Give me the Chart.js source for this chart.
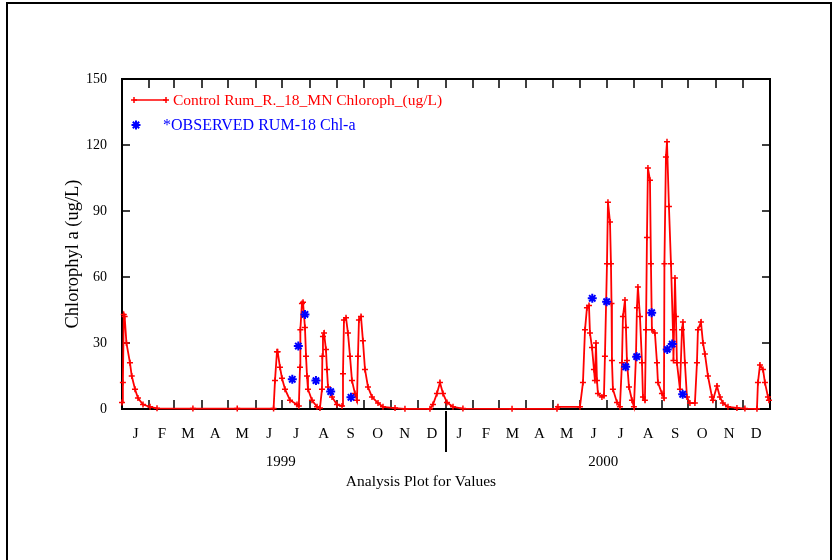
<!DOCTYPE html>
<html>
<head>
<meta charset="utf-8">
<script src="https://cdn.jsdelivr.net/npm/chart.js@4.4.1/dist/chart.umd.min.js"></script>
<style>
html, body { margin: 0; padding: 0; background: #fff; }
#wrap { position: relative; width: 835px; height: 560px; }
</style>
</head>
<body>
<div id="wrap"><canvas id="chlChart" width="835" height="560"></canvas></div>
<script>
// days counted from 1 Jan 1999
const modelDays = [0, 1, 2, 3, 5, 9, 11, 14.7, 18, 23.7, 31.6, 39.5, 80, 130, 171,
    172.6, 174.8, 175.6, 178.2, 180.5, 183.9, 189.5, 197.4, 199.5,
    200.8, 201.2, 203, 204.2, 206.4, 207.6, 208.7, 209.8, 214.3, 220, 223.3,
    225.6, 226, 226.7, 227.9, 230.1, 231.2, 232.4, 236.9, 242.5, 248.2,
    249.3, 250.4, 252.7, 254.9, 257.2, 259.4, 262.8, 265.1,
    266.2, 267.3, 269.6, 271.8, 274.1, 277.5, 282, 288.8, 294.4, 308, 319.2, 347.4,
    350.8, 355.3, 358.7, 362.1, 366.6, 373.4, 384.6, 440, 490.7, 491.8, 516.6,
    520, 522.3, 524.5, 526.8, 527.9, 530.2, 532.4, 533.5, 534.7, 535.8, 536.9, 541.4, 543.7,
    544.8, 547.1, 548.2, 550.5, 551.6, 552.2, 552.7, 553.8, 558.4, 561.7,
    564, 565.1, 567.4, 568.5, 569.6, 571.9, 575.3, 577.5,
    579.8, 580.9, 582, 584.3, 586.6, 587.7, 589.9,
    591.1, 592.2, 593.3, 595.6, 596.7, 597.8, 601.2, 603.5, 604.6, 609.1, 611.4,
    611.9, 613.6, 614.8, 617, 619.3, 621.5, 622.1, 623.8, 624.9, 626, 629.4,
    631.7, 632.8, 635, 637.3, 640.7, 646.3,
    648.6, 649.7, 653.1, 655.4, 657.6, 661, 665.5, 666.6, 671.2, 674.5, 677.9, 683.6, 693.7, 702.7, 716.3,
    717.4, 719.7, 723.1, 725.3, 728.7, 729.8];

const modelValues = [3, 12, 43, 42, 30, 21, 15, 9, 5, 2, 1, 0.3, 0.2, 0.2, 0.2,
    13, 26, 26, 19, 14, 9, 4, 2, 1.4,
    19, 36, 48, 48.5, 37, 24, 15, 9, 4, 1, 0.5,
    9, 24, 33, 34.5, 27, 18, 10, 5.5, 2, 1.4,
    16, 40.5, 41.5, 34.5, 24, 13, 7, 4,
    24, 40.5, 42, 31, 18, 10, 5.5, 2.7, 1, 0.4, 0.1, 0.1,
    2, 7, 12, 7, 3, 1, 0.2, 0.1, 0.1, 1, 1,
    12, 36, 46, 47, 34.5, 28, 18, 13, 30, 13, 7, 5.5, 6,
    24, 66, 94, 85, 66, 48, 22, 9, 3, 1,
    21, 42, 49.5, 37, 22, 10, 4, 1,
    24, 46, 55.5, 42, 21, 5.5, 4,
    36, 78, 109.5, 104, 66, 36, 34.5, 21, 12, 7, 5,
    66, 114.5, 121.5, 92, 66, 36, 22, 59.5, 42, 21, 9,
    36, 39.5, 21, 5.5, 2.7, 2.7,
    21, 36, 39.5, 30, 25, 15, 5.5, 4, 10.5, 5.5, 2.7, 1, 0.5, 0.2, 0.1,
    12, 20, 18, 12, 5.5, 4];

const obsDays = [192.1, 198.9, 206.4, 218.8, 235.4, 258.3,
    530.5, 546.7, 568.2, 580.6, 597.5, 615.1, 620.7, 632.5];
const obsValues = [13.5, 28.6, 43, 12.9, 7.9, 5.3,
    50.3, 48.8, 19.2, 23.8, 43.8, 27.1, 29.5, 6.7];

const monthStarts = [0, 31, 59, 90, 120, 151, 181, 212, 243, 273, 304, 334, 365,
    396, 425, 456, 486, 517, 547, 578, 609, 639, 670, 700, 731];
const monthLetters = ['J', 'F', 'M', 'A', 'M', 'J', 'J', 'A', 'S', 'O', 'N', 'D',
    'J', 'F', 'M', 'A', 'M', 'J', 'J', 'A', 'S', 'O', 'N', 'D'];
const yearLabels = ['1999', '2000'];
const yearCenters = [179, 543];
const yTicks = [0, 30, 60, 90, 120, 150];

const SERIF = '"Liberation Serif", "Times New Roman", serif';
const RED = '#ff0000';
const BLUE = '#0000ff';

const monthMids = monthStarts.slice(0, -1).map((d, i) => (d + monthStarts[i + 1]) / 2);

const decorPlugin = {
    id: 'decor',
    beforeDatasetsDraw(chart) {
        const ctx = chart.ctx;
        const a = chart.chartArea;
        const xs = chart.scales.x;
        const ys = chart.scales.y;
        ctx.save();
        ctx.strokeStyle = '#000';
        ctx.lineWidth = 2;
        ctx.strokeRect(a.left, a.top, a.right - a.left, a.bottom - a.top);
        ctx.lineWidth = 1.5;
        ctx.beginPath();
        // month ticks, pointing inwards
        monthStarts.slice(1, -1).forEach(d => {
            const px = Math.round(xs.getPixelForValue(d));
            ctx.moveTo(px, a.top);
            ctx.lineTo(px, a.top + 9);
            ctx.moveTo(px, a.bottom);
            ctx.lineTo(px, a.bottom - 9);
        });
        yTicks.slice(1, -1).forEach(v => {
            const py = Math.round(ys.getPixelForValue(v));
            ctx.moveTo(a.left, py);
            ctx.lineTo(a.left + 8, py);
            ctx.moveTo(a.right, py);
            ctx.lineTo(a.right - 8, py);
        });
        ctx.stroke();
        // year divider
        ctx.lineWidth = 2;
        const dx = Math.round(xs.getPixelForValue(365));
        ctx.beginPath();
        ctx.moveTo(dx, a.bottom + 2);
        ctx.lineTo(dx, a.bottom + 43);
        ctx.stroke();
        ctx.restore();
    },
    afterDraw(chart) {
        const ctx = chart.ctx;
        const xs = chart.scales.x;
        ctx.save();
        // outer frame
        ctx.strokeStyle = '#000';
        ctx.lineWidth = 2;
        ctx.beginPath();
        ctx.moveTo(7, 560);
        ctx.lineTo(7, 3);
        ctx.lineTo(831, 3);
        ctx.lineTo(831, 560);
        ctx.stroke();

        ctx.fillStyle = '#000';
        ctx.font = '15px ' + SERIF;
        ctx.textAlign = 'center';
        ctx.textBaseline = 'middle';
        yearLabels.forEach((t, i) => {
            ctx.fillText(t, xs.getPixelForValue(yearCenters[i]), 462);
        });
        ctx.font = '15.5px ' + SERIF;
        ctx.fillText('Analysis Plot for Values', 421, 482);

        // y title, sits a little below the plot centre
        ctx.save();
        ctx.translate(73, 254);
        ctx.rotate(-Math.PI / 2);
        ctx.font = '18.5px ' + SERIF;
        ctx.fillText('Chlorophyl a (ug/L)', 0, 0);
        ctx.restore();

        // legend inside the plot
        ctx.textAlign = 'left';
        ctx.strokeStyle = RED;
        ctx.lineWidth = 1.5;
        ctx.beginPath();
        ctx.moveTo(133, 100);
        ctx.lineTo(167, 100);
        ctx.stroke();
        Chart.helpers.drawPoint(ctx, { pointStyle: 'cross', radius: 3, borderWidth: 1.5 }, 134, 100);
        Chart.helpers.drawPoint(ctx, { pointStyle: 'cross', radius: 3, borderWidth: 1.5 }, 166, 100);
        ctx.fillStyle = RED;
        ctx.font = '15.5px ' + SERIF;
        ctx.fillText('Control Rum_R._18_MN Chloroph_(ug/L)', 173, 101);

        ctx.strokeStyle = BLUE;
        ctx.lineWidth = 2;
        Chart.helpers.drawPoint(ctx, { pointStyle: 'star', radius: 4.5, borderWidth: 2 }, 136, 125);
        ctx.fillStyle = BLUE;
        ctx.font = '16px ' + SERIF;
        ctx.fillText('*OBSERVED RUM-18 Chl-a', 163, 126);
        ctx.restore();
    }
};

const ctx = document.getElementById('chlChart').getContext('2d');

new Chart(ctx, {
    type: 'line',
    data: {
        datasets: [{
            label: 'Control Rum_R._18_MN Chloroph_(ug/L)',
            data: modelDays.map((d, i) => ({ x: d, y: modelValues[i] })),
            borderColor: RED,
            backgroundColor: RED,
            borderWidth: 1.8,
            pointStyle: 'cross',
            pointRadius: 3,
            pointBorderWidth: 1.5,
            tension: 0,
            clip: 4,
            order: 2
        }, {
            label: 'OBSERVED RUM-18 Chl-a',
            data: obsDays.map((d, i) => ({ x: d, y: obsValues[i] })),
            showLine: false,
            borderColor: BLUE,
            backgroundColor: BLUE,
            pointStyle: 'star',
            pointRadius: 4.5,
            pointBorderWidth: 2,
            clip: 6,
            order: 1
        }]
    },
    options: {
        responsive: false,
        animation: false,
        layout: {
            padding: { left: 60, right: 65, top: 79, bottom: 0 }
        },
        plugins: {
            legend: { display: false },
            tooltip: { enabled: false }
        },
        scales: {
            x: {
                type: 'linear',
                min: 0,
                max: 731,
                afterBuildTicks: s => { s.ticks = monthMids.map(v => ({ value: v })); },
                afterFit: s => { s.height = 151; },
                grid: { display: false, drawTicks: false },
                border: { display: false },
                ticks: {
                    autoSkip: false,
                    maxRotation: 0,
                    padding: 16,
                    color: '#000',
                    font: { family: SERIF, size: 15 },
                    callback: (v, i) => monthLetters[i]
                }
            },
            y: {
                min: 0,
                max: 150,
                afterBuildTicks: s => { s.ticks = yTicks.map(v => ({ value: v })); },
                afterFit: s => { s.width = 62; },
                grid: { display: false, drawTicks: false },
                border: { display: false },
                ticks: {
                    padding: 15,
                    color: '#000',
                    font: { family: SERIF, size: 14 }
                }
            }
        }
    },
    plugins: [decorPlugin]
});
</script>
</body>
</html>
